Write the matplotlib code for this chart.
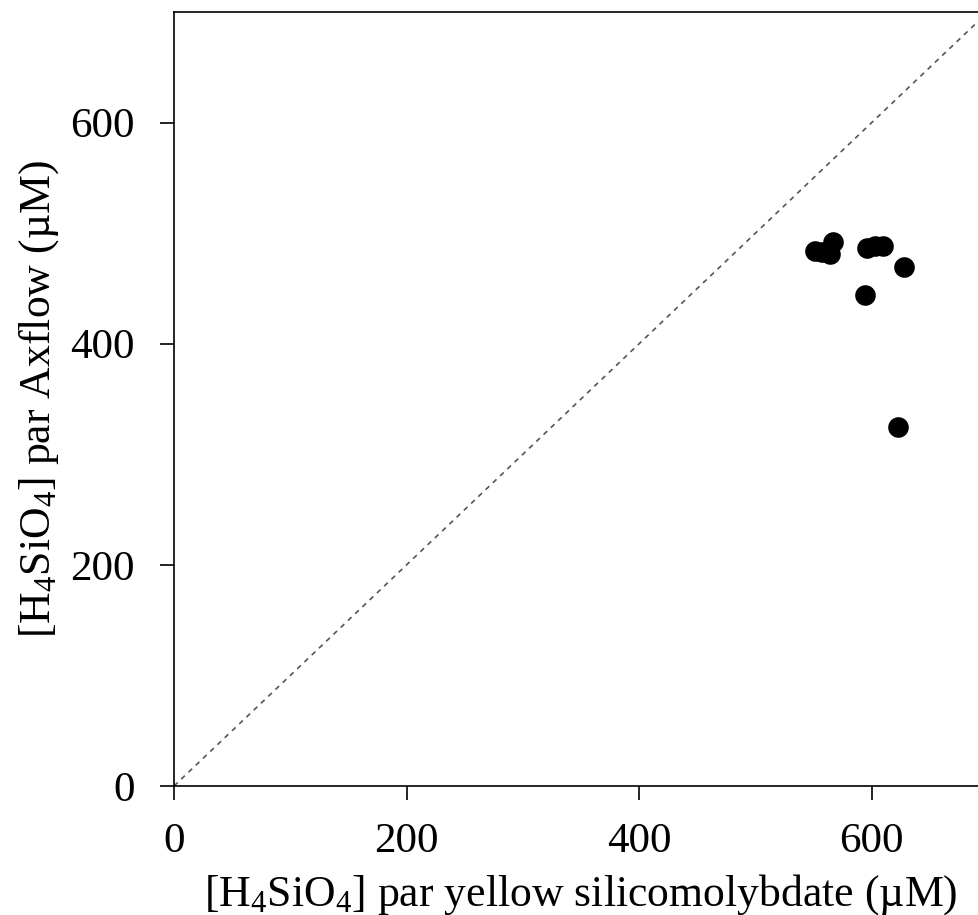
import matplotlib
matplotlib.use("Agg")
import matplotlib.pyplot as plt

plt.rcParams["font.family"] = ["Liberation Serif", "DejaVu Serif"]
plt.rcParams["mathtext.default"] = "regular"

# silicate by yellow silicomolybdate (x) vs by Axflow (y), in µM
yellow = [551, 557, 564, 567, 596, 603, 610, 628, 594, 623]
axflow = [484, 483, 481, 492, 487, 488, 488, 469, 444, 325]

ref_line = [0, 700]
xticks = [0, 200, 400, 600]
yticks = [0, 200, 400, 600]

W, H = 979, 915
fig = plt.figure(figsize=(W / 100, H / 100), dpi=100)
ax = fig.add_axes([174 / W, 1 - 786 / H, 814 / W, 774 / H])

ax.plot(ref_line, ref_line, linestyle=(0, (3, 3)), color="#555555", lw=1.2, zorder=1)
ax.scatter(yellow, axflow, s=220, color="black", zorder=3, linewidths=0)

ax.set_xlim(0, 700)
ax.set_ylim(0, 700)
ax.set_xticks(xticks)
ax.set_yticks(yticks)
ax.tick_params(direction="out", length=10, width=1.2, labelsize=31)
ax.tick_params(axis="x", pad=16)
ax.tick_params(axis="y", pad=18)
for s in ax.spines.values():
    s.set_linewidth(1.2)

ax.set_xlabel("[H$_4$SiO$_4$] par yellow silicomolybdate (µM)", fontsize=31.5, labelpad=8)
ax.set_ylabel("[H$_4$SiO$_4$] par Axflow (µM)", fontsize=31.5, labelpad=7)

fig.savefig("out.png", dpi=100)
